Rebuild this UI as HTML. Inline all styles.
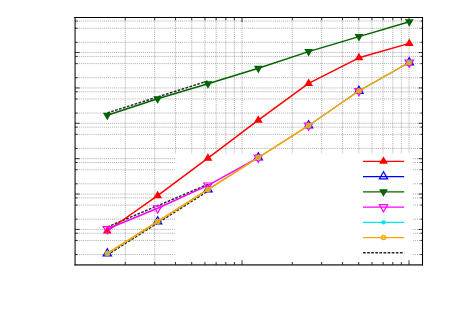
<!DOCTYPE html>
<html><head><meta charset="utf-8"><title>chart</title>
<style>html,body{margin:0;padding:0;background:#fff;font-family:"Liberation Sans",sans-serif;}svg{display:block}</style>
</head><body>
<svg width="450" height="314" viewBox="0 0 450 314">
<rect x="0" y="0" width="450" height="314" fill="#fff"/>
<g stroke="#000" stroke-opacity="0.32" stroke-width="1" stroke-dasharray="1.03 1.03" fill="none">
<path d="M125.27 17.50V264.70"/>
<path d="M154.68 17.50V264.70"/>
<path d="M175.54 17.50V264.70"/>
<path d="M191.73 17.50V264.70"/>
<path d="M204.95 17.50V264.70"/>
<path d="M216.13 17.50V264.70"/>
<path d="M225.82 17.50V264.70"/>
<path d="M234.36 17.50V264.70"/>
<path d="M242.00 17.50V264.70"/>
<path d="M292.27 17.50V264.70"/>
<path d="M321.68 17.50V264.70"/>
<path d="M342.54 17.50V264.70"/>
<path d="M358.73 17.50V264.70"/>
<path d="M371.95 17.50V264.70"/>
<path d="M383.13 17.50V264.70"/>
<path d="M392.82 17.50V264.70"/>
<path d="M401.36 17.50V264.70"/>
<path d="M409.00 17.50V264.70"/>
<path d="M75.00 21.03H422.50"/>
<path d="M75.00 28.25H422.50"/>
<path d="M75.00 42.32H422.50"/>
<path d="M75.00 52.57H422.50"/>
<path d="M75.00 56.40H422.50"/>
<path d="M75.00 63.62H422.50"/>
<path d="M75.00 77.69H422.50"/>
<path d="M75.00 87.94H422.50"/>
<path d="M75.00 91.77H422.50"/>
<path d="M75.00 98.99H422.50"/>
<path d="M75.00 113.06H422.50"/>
<path d="M75.00 123.31H422.50"/>
<path d="M75.00 127.14H422.50"/>
<path d="M75.00 134.36H422.50"/>
<path d="M75.00 148.43H422.50"/>
<path d="M75.00 158.68H422.50"/>
<path d="M75.00 162.51H422.50"/>
<path d="M75.00 169.73H422.50"/>
<path d="M75.00 183.80H422.50"/>
<path d="M75.00 194.05H422.50"/>
<path d="M75.00 197.88H422.50"/>
<path d="M75.00 205.10H422.50"/>
<path d="M75.00 219.17H422.50"/>
<path d="M75.00 229.42H422.50"/>
<path d="M75.00 233.25H422.50"/>
<path d="M75.00 240.47H422.50"/>
<path d="M75.00 254.54H422.50"/>
</g>
<rect x="174.90" y="153.60" width="237.40" height="108.90" fill="#fff"/>
<g stroke="#000" fill="none">
<path d="M75.10 17.00V265.30" stroke-width="1.5" stroke-opacity="0.7"/>
<path d="M74.40 264.90H423.00" stroke-width="1.6" stroke-opacity="0.66"/>
<path d="M74.20 17.50H423.00" stroke-width="1.1"/>
<path d="M422.50 17.00V265.50" stroke-width="1.1"/>
<path d="M125.27 264.70v-2.70M125.27 17.50v2.70M154.68 264.70v-2.70M154.68 17.50v2.70M175.54 264.70v-2.70M175.54 17.50v2.70M191.73 264.70v-2.70M191.73 17.50v2.70M204.95 264.70v-2.70M204.95 17.50v2.70M216.13 264.70v-2.70M216.13 17.50v2.70M225.82 264.70v-2.70M225.82 17.50v2.70M234.36 264.70v-2.70M234.36 17.50v2.70M242.00 264.70v-4.60M242.00 17.50v4.60M292.27 264.70v-2.70M292.27 17.50v2.70M321.68 264.70v-2.70M321.68 17.50v2.70M342.54 264.70v-2.70M342.54 17.50v2.70M358.73 264.70v-2.70M358.73 17.50v2.70M371.95 264.70v-2.70M371.95 17.50v2.70M383.13 264.70v-2.70M383.13 17.50v2.70M392.82 264.70v-2.70M392.82 17.50v2.70M401.36 264.70v-2.70M401.36 17.50v2.70M409.00 264.70v-4.60M409.00 17.50v4.60M75.00 21.03h2.70M422.50 21.03h-2.10M75.00 28.25h2.70M422.50 28.25h-2.10M75.00 42.32h2.70M422.50 42.32h-2.10M75.00 52.57h4.60M422.50 52.57h-4.00M75.00 56.40h2.70M422.50 56.40h-2.10M75.00 63.62h2.70M422.50 63.62h-2.10M75.00 77.69h2.70M422.50 77.69h-2.10M75.00 87.94h4.60M422.50 87.94h-4.00M75.00 91.77h2.70M422.50 91.77h-2.10M75.00 98.99h2.70M422.50 98.99h-2.10M75.00 113.06h2.70M422.50 113.06h-2.10M75.00 123.31h4.60M422.50 123.31h-4.00M75.00 127.14h2.70M422.50 127.14h-2.10M75.00 134.36h2.70M422.50 134.36h-2.10M75.00 148.43h2.70M422.50 148.43h-2.10M75.00 158.68h4.60M422.50 158.68h-4.00M75.00 162.51h2.70M422.50 162.51h-2.10M75.00 169.73h2.70M422.50 169.73h-2.10M75.00 183.80h2.70M422.50 183.80h-2.10M75.00 194.05h4.60M422.50 194.05h-4.00M75.00 197.88h2.70M422.50 197.88h-2.10M75.00 205.10h2.70M422.50 205.10h-2.10M75.00 219.17h2.70M422.50 219.17h-2.10M75.00 229.42h4.60M422.50 229.42h-4.00M75.00 233.25h2.70M422.50 233.25h-2.10M75.00 240.47h2.70M422.50 240.47h-2.10M75.00 254.54h2.70M422.50 254.54h-2.10" stroke-width="0.9" stroke-opacity="0.85"/>
</g>
<path d="M107.30 112.90L207.96 80.96" stroke="#2a2a2a" stroke-width="1.5" stroke-dasharray="2.7 1.4" fill="none"/>
<path d="M107.30 227.00L207.96 184.41" stroke="#2a2a2a" stroke-width="1.5" stroke-dasharray="2.7 1.4" fill="none"/>
<path d="M107.30 254.90L207.96 191.02" stroke="#2a2a2a" stroke-width="1.5" stroke-dasharray="2.7 1.4" fill="none"/>
<polyline points="107.30,231.00 157.63,195.70 207.96,158.20 258.29,120.20 308.62,83.40 358.95,57.80 409.28,43.40" fill="none" stroke="#ff0000" stroke-width="1.5" stroke-linejoin="round"/>
<polygon points="107.30,226.00 102.90,233.50 111.70,233.50" fill="#ff0000" stroke="none" stroke-width="0"/>
<polygon points="157.63,190.70 153.23,198.20 162.03,198.20" fill="#ff0000" stroke="none" stroke-width="0"/>
<polygon points="207.96,153.20 203.56,160.70 212.36,160.70" fill="#ff0000" stroke="none" stroke-width="0"/>
<polygon points="258.29,115.20 253.89,122.70 262.69,122.70" fill="#ff0000" stroke="none" stroke-width="0"/>
<polygon points="308.62,78.40 304.22,85.90 313.02,85.90" fill="#ff0000" stroke="none" stroke-width="0"/>
<polygon points="358.95,52.80 354.55,60.30 363.35,60.30" fill="#ff0000" stroke="none" stroke-width="0"/>
<polygon points="409.28,38.40 404.88,45.90 413.68,45.90" fill="#ff0000" stroke="none" stroke-width="0"/>
<polyline points="107.30,253.50 157.63,221.50 207.96,189.50 258.29,157.60 308.62,125.50 358.95,90.90 409.28,62.40" fill="none" stroke="#0000ff" stroke-width="0.9" stroke-linejoin="round"/>
<polygon points="107.30,248.70 103.15,255.90 111.45,255.90" fill="none" stroke="#0000ff" stroke-width="1.2"/>
<polygon points="157.63,216.70 153.48,223.90 161.78,223.90" fill="none" stroke="#0000ff" stroke-width="1.2"/>
<polygon points="207.96,184.70 203.81,191.90 212.11,191.90" fill="none" stroke="#0000ff" stroke-width="1.2"/>
<polygon points="258.29,152.80 254.14,160.00 262.44,160.00" fill="none" stroke="#0000ff" stroke-width="1.2"/>
<polygon points="308.62,120.70 304.47,127.90 312.77,127.90" fill="none" stroke="#0000ff" stroke-width="1.2"/>
<polygon points="358.95,86.10 354.80,93.30 363.10,93.30" fill="none" stroke="#0000ff" stroke-width="1.2"/>
<polygon points="409.28,57.60 405.13,64.80 413.43,64.80" fill="none" stroke="#0000ff" stroke-width="1.2"/>
<polyline points="107.30,115.30 157.63,98.70 207.96,83.80 258.29,68.20 308.62,51.60 358.95,36.60 409.28,21.80" fill="none" stroke="#006400" stroke-width="1.5" stroke-linejoin="round"/>
<polygon points="107.30,120.30 102.90,112.80 111.70,112.80" fill="#006400" stroke="none" stroke-width="0"/>
<polygon points="157.63,103.70 153.23,96.20 162.03,96.20" fill="#006400" stroke="none" stroke-width="0"/>
<polygon points="207.96,88.80 203.56,81.30 212.36,81.30" fill="#006400" stroke="none" stroke-width="0"/>
<polygon points="258.29,73.20 253.89,65.70 262.69,65.70" fill="#006400" stroke="none" stroke-width="0"/>
<polygon points="308.62,56.60 304.22,49.10 313.02,49.10" fill="#006400" stroke="none" stroke-width="0"/>
<polygon points="358.95,41.60 354.55,34.10 363.35,34.10" fill="#006400" stroke="none" stroke-width="0"/>
<polygon points="409.28,26.80 404.88,19.30 413.68,19.30" fill="#006400" stroke="none" stroke-width="0"/>
<polyline points="107.30,229.00 157.63,208.30 207.96,185.40 258.29,157.60" fill="none" stroke="#ff00ff" stroke-width="1.5" stroke-linejoin="round"/>
<polyline points="258.29,157.60 308.62,125.50 358.95,90.90 409.28,62.40" fill="none" stroke="#ff00ff" stroke-width="0.9" stroke-linejoin="round"/>
<polygon points="107.30,233.80 103.15,226.60 111.45,226.60" fill="none" stroke="#ff00ff" stroke-width="1.2"/>
<polygon points="157.63,213.10 153.48,205.90 161.78,205.90" fill="none" stroke="#ff00ff" stroke-width="1.2"/>
<polygon points="207.96,190.20 203.81,183.00 212.11,183.00" fill="none" stroke="#ff00ff" stroke-width="1.2"/>
<polygon points="258.29,162.40 254.14,155.20 262.44,155.20" fill="none" stroke="#ff00ff" stroke-width="1.2"/>
<polygon points="308.62,130.30 304.47,123.10 312.77,123.10" fill="none" stroke="#ff00ff" stroke-width="1.2"/>
<polygon points="358.95,95.70 354.80,88.50 363.10,88.50" fill="none" stroke="#ff00ff" stroke-width="1.2"/>
<polygon points="409.28,67.20 405.13,60.00 413.43,60.00" fill="none" stroke="#ff00ff" stroke-width="1.2"/>
<polyline points="107.30,253.50 157.63,221.50 207.96,189.50 258.29,157.60 308.62,125.50 358.95,90.90 409.28,62.40" fill="none" stroke="#00e5ee" stroke-width="1.1" stroke-linejoin="round"/>
<circle cx="107.30" cy="253.50" r="2.1" fill="#00e5ee"/>
<circle cx="157.63" cy="221.50" r="2.1" fill="#00e5ee"/>
<circle cx="207.96" cy="189.50" r="2.1" fill="#00e5ee"/>
<circle cx="258.29" cy="157.60" r="2.1" fill="#00e5ee"/>
<circle cx="308.62" cy="125.50" r="2.1" fill="#00e5ee"/>
<circle cx="358.95" cy="90.90" r="2.1" fill="#00e5ee"/>
<circle cx="409.28" cy="62.40" r="2.1" fill="#00e5ee"/>
<polyline points="107.30,253.50 157.63,221.50 207.96,189.50 258.29,157.60 308.62,125.50 358.95,90.90 409.28,62.40" fill="none" stroke="#ffa500" stroke-width="1.5" stroke-linejoin="round"/>
<circle cx="107.30" cy="253.50" r="2.1" fill="none" stroke="#ffa500" stroke-width="1.3"/>
<circle cx="157.63" cy="221.50" r="2.1" fill="none" stroke="#ffa500" stroke-width="1.3"/>
<circle cx="207.96" cy="189.50" r="2.1" fill="none" stroke="#ffa500" stroke-width="1.3"/>
<circle cx="258.29" cy="157.60" r="2.1" fill="none" stroke="#ffa500" stroke-width="1.3"/>
<circle cx="308.62" cy="125.50" r="2.1" fill="none" stroke="#ffa500" stroke-width="1.3"/>
<circle cx="358.95" cy="90.90" r="2.1" fill="none" stroke="#ffa500" stroke-width="1.3"/>
<circle cx="409.28" cy="62.40" r="2.1" fill="none" stroke="#ffa500" stroke-width="1.3"/>
<path d="M363.00 161.30H404.20" stroke="#ff0000" stroke-width="1.3" fill="none"/>
<polygon points="383.50,156.30 379.10,163.80 387.90,163.80" fill="#ff0000" stroke="none" stroke-width="0"/>
<path d="M363.00 176.56H404.20" stroke="#0000ff" stroke-width="1.3" fill="none"/>
<polygon points="383.50,171.76 379.35,178.96 387.65,178.96" fill="none" stroke="#0000ff" stroke-width="1.2"/>
<path d="M363.00 191.82H404.20" stroke="#006400" stroke-width="1.3" fill="none"/>
<polygon points="383.50,196.82 379.10,189.32 387.90,189.32" fill="#006400" stroke="none" stroke-width="0"/>
<path d="M363.00 207.08H404.20" stroke="#ff00ff" stroke-width="1.3" fill="none"/>
<polygon points="383.50,211.88 379.35,204.68 387.65,204.68" fill="none" stroke="#ff00ff" stroke-width="1.2"/>
<path d="M363.00 222.34H404.20" stroke="#00e5ee" stroke-width="1.3" fill="none"/>
<circle cx="383.50" cy="222.34" r="2.2" fill="#00e5ee"/>
<path d="M363.00 237.60H404.20" stroke="#ffa500" stroke-width="1.3" fill="none"/>
<circle cx="383.50" cy="237.60" r="2.1" fill="none" stroke="#ffa500" stroke-width="1.3"/>
<path d="M363.00 252.86H404.20" stroke="#2a2a2a" stroke-width="1.5" stroke-dasharray="2.7 1.4" fill="none"/>
</svg>
</body></html>
